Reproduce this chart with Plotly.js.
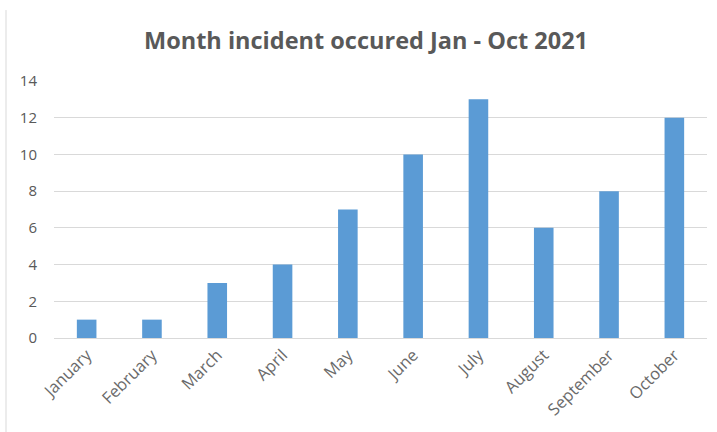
<!DOCTYPE html>
<html>
<head>
<meta charset="utf-8">
<script src="https://cdn.plot.ly/plotly-3.0.1.min.js"></script>
<style>html,body{margin:0;padding:0;background:#fff;}#chart{width:717px;height:432px;}</style>
</head>
<body>
<div id="chart"></div>
<script>
const months = ["January","February","March","April","May","June","July","August","September","October"];
const incidents = [1, 1, 3, 4, 7, 10, 13, 6, 8, 12];
const yTicks = [0, 2, 4, 6, 8, 10, 12, 14];

const trace = {
  type: "bar",
  x: months,
  y: incidents,
  marker: {color: "#5B9BD5"},
  hoverinfo: "x+y"
};

const layout = {
  width: 717,
  height: 432,
  margin: {l: 54, r: 10, t: 81, b: 94},
  paper_bgcolor: "#ffffff",
  plot_bgcolor: "#ffffff",
  showlegend: false,
  bargap: 0.7,
  font: {family: "Open Sans, Liberation Sans, sans-serif", color: "#595959", size: 15},
  title: {
    text: "<b>Month incident occured Jan - Oct 2021</b>",
    font: {family: "Open Sans, Liberation Sans, sans-serif", size: 23.5, color: "#595959"},
    x: 0.5105, xanchor: "center", xref: "container",
    y: 42, yref: "container", yanchor: "middle"
  },
  xaxis: {
    type: "category",
    tickangle: -45,
    showgrid: false,
    showline: true,
    linecolor: "#d9d9d9",
    linewidth: 1,
    ticks: "",
    tickfont: {size: 16.5, color: "#6a6a6a"},
    fixedrange: true
  },
  yaxis: {
    range: [0, 14],
    tickvals: yTicks,
    showgrid: true,
    gridcolor: "#d9d9d9",
    gridwidth: 1,
    zeroline: false,
    showline: false,
    ticks: "",
    ticklabelstandoff: 16,
    tickfont: {size: 15, color: "#595959"},
    fixedrange: true
  },
  shapes: [{
    type: "line", xref: "paper", yref: "paper",
    x0: -0.0735, x1: -0.0735, y0: 1.276, y1: -0.37,
    line: {color: "#d9d9d9", width: 1}
  }]
};

Plotly.newPlot("chart", [trace], layout, {displayModeBar: false, staticPlot: true});
</script>
</body>
</html>
